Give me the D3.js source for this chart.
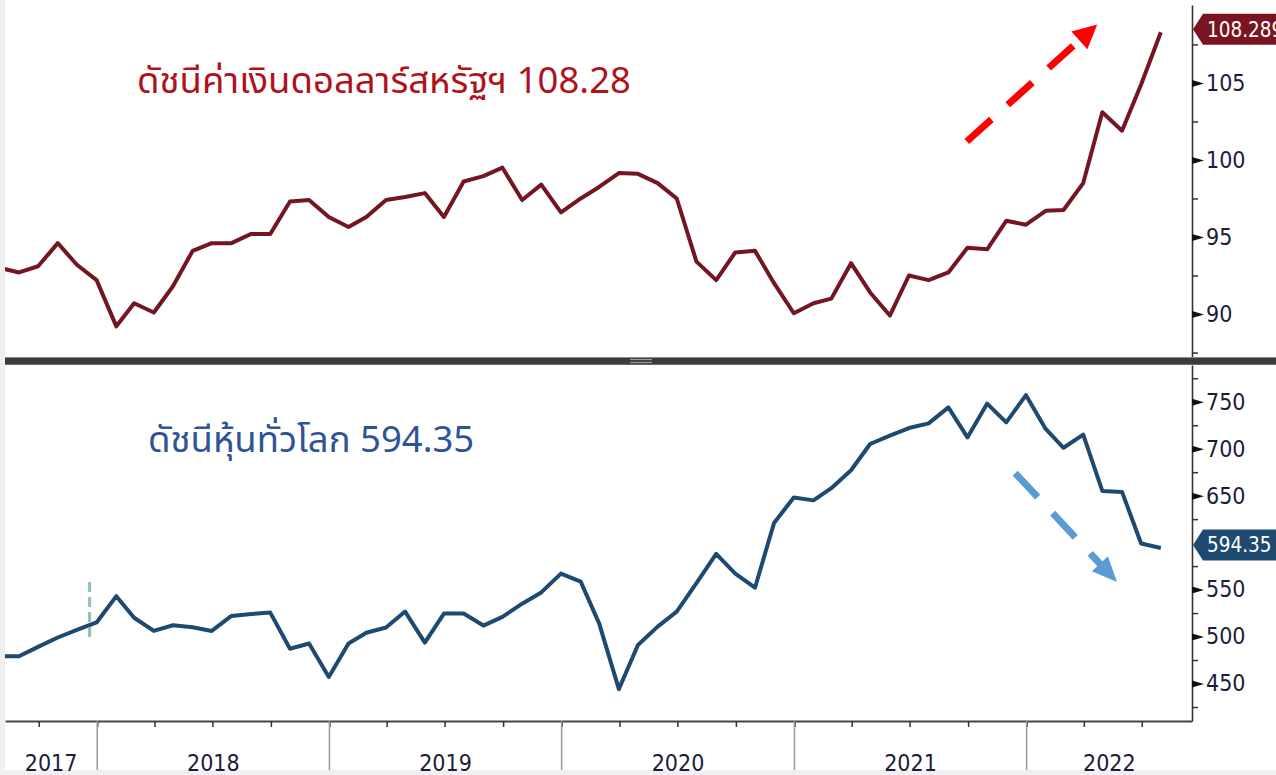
<!DOCTYPE html>
<html>
<head>
<meta charset="utf-8">
<script src="https://cdn.jsdelivr.net/npm/d3@7"></script>
<style>
  html, body { margin: 0; padding: 0; background: #f0f0f0; }
  svg { display: block; }
  .lbl { font-family: "Liberation Sans Narrow", "DejaVu Sans Condensed", "Liberation Sans", sans-serif; font-size: 23px; fill: #1c1c3a; }
  .callout { font-family: "Liberation Sans Narrow", "DejaVu Sans Condensed", "Liberation Sans", sans-serif; font-size: 20.5px; fill: #ffffff; }
  .title { font-family: "Noto Sans Thai", "Noto Sans", "DejaVu Sans", sans-serif; font-size: 36.5px; }
</style>
</head>
<body>
<div id="wrap"></div>
<script>
// เดือน (จุดข้อมูลอยู่ที่สิ้นเดือน)
const months = [
  "2017-07","2017-08","2017-09","2017-10","2017-11","2017-12",
  "2018-01","2018-02","2018-03","2018-04","2018-05","2018-06","2018-07","2018-08","2018-09","2018-10","2018-11","2018-12",
  "2019-01","2019-02","2019-03","2019-04","2019-05","2019-06","2019-07","2019-08","2019-09","2019-10","2019-11","2019-12",
  "2020-01","2020-02","2020-03","2020-04","2020-05","2020-06","2020-07","2020-08","2020-09","2020-10","2020-11","2020-12",
  "2021-01","2021-02","2021-03","2021-04","2021-05","2021-06","2021-07","2021-08","2021-09","2021-10","2021-11","2021-12",
  "2022-01","2022-02","2022-03","2022-04","2022-05","2022-06","2022-07"
];
// ดัชนีค่าเงินดอลลาร์สหรัฐฯ
const dollarIndex = [
  93.0, 92.7, 93.1, 94.6, 93.2, 92.2,
  89.2, 90.7, 90.1, 91.8, 94.1, 94.6, 94.6, 95.2, 95.2, 97.3, 97.4, 96.3,
  95.65, 96.3, 97.4, 97.6, 97.85, 96.3, 98.6, 98.95, 99.5, 97.4, 98.4, 96.6,
  97.5, 98.25, 99.15, 99.1, 98.5, 97.5, 93.4, 92.2, 94.0, 94.1, 92.0, 90.05,
  90.7, 91.0, 93.3, 91.4, 89.9, 92.5, 92.2, 92.7, 94.3, 94.2, 96.05, 95.8,
  96.7, 96.75, 98.5, 103.1, 101.9, 104.9, 108.289
];
// ดัชนีหุ้นทั่วโลก
const worldStocks = [
  479, 479, 489, 499, 507, 515,
  543, 520, 506, 512, 510, 506, 522, 524, 525.5, 487, 492.6, 457,
  492.6, 504, 509.6, 526.6, 493.6, 524.5, 524.5, 511.7, 521, 535, 547, 567,
  558.5, 514, 444, 491, 510.6, 526.6, 557, 588, 567, 552, 621, 648,
  645, 658, 677, 705, 714, 722, 727, 744, 712, 748, 728, 757,
  721, 701, 715, 655, 654, 599, 594.35
];
const dollarTicks = [90, 95, 100, 105];
const dollarMinor = [87.5, 92.5, 97.5, 102.5, 107.5];
const stockTicks = [450, 500, 550, 650, 700, 750];   // 600 ถูกป้ายค่าล่าสุดบัง
const stockMinor = [425, 475, 525, 575, 625, 675, 725, 775];
const years = [2017, 2018, 2019, 2020, 2021, 2022];

const dollarTitle = "ดัชนีค่าเงินดอลลาร์สหรัฐฯ 108.28";
const stockTitle = "ดัชนีหุ้นทั่วโลก 594.35";

chart();
function chart() {
  const WIDTH = 1276;
  const HEIGHT = 775;
  const LEFT = 5, RIGHT = 1192;
  const TOP1 = 5, BOT1 = 357;   // แผงบน
  const TOP2 = 365, BOT2 = 721; // แผงล่าง

  const parse = d3.timeParse("%Y-%m");
  const monthEnd = m => d3.timeDay.offset(d3.timeMonth.offset(parse(m), 1), -1);
  const dollarData = months.map((m, i) => ({ date: monthEnd(m), value: dollarIndex[i] }));
  const stockData = months.map((m, i) => ({ date: monthEnd(m), value: worldStocks[i] }));

  const svg = d3.select('#wrap').append('svg')
    .attr('width', WIDTH).attr('height', HEIGHT);

  // พื้นหลังขาว
  svg.append('rect').attr('x', LEFT).attr('y', 0)
    .attr('width', WIDTH - LEFT).attr('height', 770).attr('fill', '#ffffff');

  // สเกล
  const x = d3.scaleTime()
    .domain([new Date(2017, 7, 9), new Date(2022, 8, 18)])
    .range([LEFT, RIGHT]);
  const y1 = d3.scaleLinear().domain([87.21, 110.06]).range([BOT1, TOP1]);
  const y2 = d3.scaleLinear().domain([410.1, 789.1]).range([BOT2, TOP2]);

  // clip
  const defs = svg.append('defs');
  defs.append('clipPath').attr('id', 'clip1').append('rect')
    .attr('x', LEFT).attr('y', TOP1).attr('width', RIGHT - LEFT).attr('height', BOT1 - TOP1);
  defs.append('clipPath').attr('id', 'clip2').append('rect')
    .attr('x', LEFT).attr('y', TOP2).attr('width', RIGHT - LEFT).attr('height', BOT2 - TOP2);

  // แกน y ด้านขวา
  function rightAxis(scale, major, minor, fmt) {
    const g = svg.append('g').attr('transform', 'translate(' + RIGHT + ',0)');
    g.call(d3.axisRight(scale).tickValues(minor).tickSize(6).tickSizeOuter(0).tickFormat(''));
    g.select('.domain').attr('stroke', '#333').attr('stroke-width', 1.6);
    g.selectAll('.tick line').attr('stroke', '#333').attr('stroke-width', 1.5);
    const gm = svg.append('g').attr('transform', 'translate(' + RIGHT + ',0)');
    gm.call(d3.axisRight(scale).tickValues(major).tickSize(0).tickPadding(14).tickFormat(fmt));
    gm.select('.domain').remove();
    gm.selectAll('.tick').append('path').attr('d', 'M0,-3.5L12,0L0,3.5Z').attr('fill', '#111');
    gm.selectAll('.tick text').attr('class', 'lbl').attr('fill', null);
  }
  rightAxis(y1, dollarTicks, dollarMinor, d3.format('d'));
  rightAxis(y2, stockTicks, stockMinor, d3.format('d'));

  // แกน x ล่าง
  const xg = svg.append('g').attr('transform', 'translate(0,' + BOT2 + ')');
  xg.call(d3.axisBottom(x).ticks(d3.timeMonth.every(3)).tickSize(6).tickSizeOuter(0).tickFormat(''));
  xg.select('.domain').attr('stroke', '#444').attr('stroke-width', 2);
  xg.selectAll('.tick line').attr('stroke', '#333').attr('stroke-width', 1.5);

  const yearStarts = years.slice(1).map(y => new Date(y, 0, 1));
  svg.append('g').selectAll('line').data(yearStarts).enter().append('line')
    .attr('x1', d => x(d)).attr('x2', d => x(d))
    .attr('y1', BOT2).attr('y2', 770)
    .attr('stroke', '#999').attr('stroke-width', 1.5);

  svg.append('g').selectAll('text').data(years).enter().append('text')
    .attr('class', 'lbl')
    .attr('text-anchor', 'middle')
    .attr('x', d => {
      const a = Math.max(x(new Date(d, 0, 1)), LEFT);
      const b = Math.min(x(new Date(d + 1, 0, 1)), RIGHT);
      return (a + b) / 2;
    })
    .attr('y', 771)
    .text(d => d);

  // เส้นข้อมูล
  const line1 = d3.line().x(d => x(d.date)).y(d => y1(d.value));
  const line2 = d3.line().x(d => x(d.date)).y(d => y2(d.value));
  svg.append('path').datum(dollarData)
    .attr('clip-path', 'url(#clip1)')
    .attr('d', line1).attr('fill', 'none')
    .attr('stroke', '#741622').attr('stroke-width', 4).attr('stroke-linejoin', 'round');
  svg.append('path').datum(stockData)
    .attr('clip-path', 'url(#clip2)')
    .attr('d', line2).attr('fill', 'none')
    .attr('stroke', '#1e4a72').attr('stroke-width', 4).attr('stroke-linejoin', 'round');

  // เส้นประแนวตั้งสีเขียว
  const mark = new Date(2017, 11, 20);
  svg.append('line')
    .attr('x1', x(mark)).attr('x2', x(mark))
    .attr('y1', y2(558)).attr('y2', y2(498.4))
    .attr('stroke', '#8fc1b5').attr('stroke-width', 3).attr('stroke-dasharray', '10,5');

  // ลูกศร
  function arrow(p0, p1, color, headLen, headW) {
    const dx = p1[0] - p0[0], dy = p1[1] - p0[1];
    const len = Math.hypot(dx, dy);
    const ux = dx / len, uy = dy / len;
    const bx = p1[0] - ux * headLen, by = p1[1] - uy * headLen;
    svg.append('line')
      .attr('x1', p0[0]).attr('y1', p0[1]).attr('x2', bx + ux * 2).attr('y2', by + uy * 2)
      .attr('stroke', color).attr('stroke-width', 7).attr('stroke-dasharray', '33,22');
    svg.append('path')
      .attr('d', 'M' + p1[0] + ',' + p1[1] +
        'L' + (bx - uy * headW / 2) + ',' + (by + ux * headW / 2) +
        'L' + (bx + uy * headW / 2) + ',' + (by - ux * headW / 2) + 'Z')
      .attr('fill', color);
  }
  arrow([x(new Date(2021, 8, 29)), y1(101.2)], [x(new Date(2022, 3, 22)), y1(108.8)], '#ff0000', 24, 24);
  arrow([x(new Date(2021, 11, 14)), y2(674.1)], [x(new Date(2022, 4, 23)), y2(558)], '#5b9bd5', 25, 22);

  // ป้ายค่าล่าสุด
  function callout(yv, color, label) {
    const cy = yv - 3;
    const g = svg.append('g');
    g.append('path')
      .attr('d', 'M' + (RIGHT + 1) + ',' + cy + 'L' + (RIGHT + 11) + ',' + (cy - 15.5) +
        'L' + WIDTH + ',' + (cy - 15.5) + 'L' + WIDTH + ',' + (cy + 15.5) +
        'L' + (RIGHT + 11) + ',' + (cy + 15.5) + 'Z')
      .attr('fill', color);
    g.append('text').attr('class', 'callout')
      .attr('x', RIGHT + 15).attr('y', cy + 7.5)
      .text(label);
  }
  callout(y1(dollarIndex[dollarIndex.length - 1]), '#7a1422', '108.289');
  callout(y2(worldStocks[worldStocks.length - 1]), '#1e4a72', '594.35');

  // แถบคั่นระหว่างแผง
  svg.append('rect').attr('x', LEFT).attr('y', BOT1).attr('width', WIDTH - LEFT).attr('height', 8)
    .attr('fill', '#3c3c3c');
  svg.append('line').attr('x1', LEFT).attr('x2', WIDTH).attr('y1', BOT1 + 0.5).attr('y2', BOT1 + 0.5)
    .attr('stroke', '#8a8a8a');
  svg.append('line').attr('x1', LEFT).attr('x2', WIDTH).attr('y1', BOT1 + 7.5).attr('y2', BOT1 + 7.5)
    .attr('stroke', '#6a6a6a');
  [359.5, 362.5].forEach(yy => {
    svg.append('line').attr('x1', 630).attr('x2', 652).attr('y1', yy).attr('y2', yy)
      .attr('stroke', '#9a9a9a').attr('stroke-width', 1.2);
  });

  // หัวข้อ
  svg.append('text').attr('class', 'title')
    .attr('x', 137).attr('y', 93).attr('fill', '#b0121c')
    .text(dollarTitle);
  svg.append('text').attr('class', 'title')
    .attr('x', 148).attr('y', 452).attr('fill', '#2f5496')
    .text(stockTitle);

  // แถบเทาขอบล่าง
  svg.append('rect').attr('x', 0).attr('y', 771).attr('width', WIDTH).attr('height', 4)
    .attr('fill', '#f0f0f0');
}
</script>
</body>
</html>
